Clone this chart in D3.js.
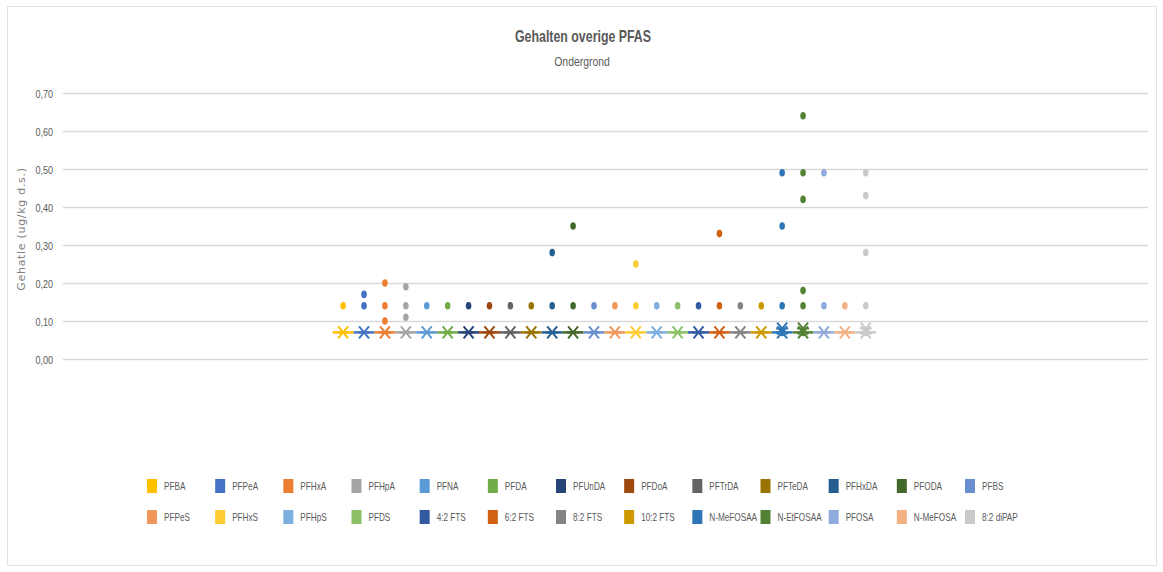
<!DOCTYPE html>
<html>
<head>
<meta charset="utf-8">
<script src="https://cdn.jsdelivr.net/npm/d3@7"></script>
<style>
  html, body { margin: 0; padding: 0; background: #ffffff; }
  svg { display: block; }
  text { font-family: "Liberation Sans", Arial, sans-serif; fill: #595959; }
</style>
</head>
<body>
<svg id="chart" width="1163" height="572"></svg>
<script>
// Stoffen in volgorde van de x-positie
const stoffen = [
  "PFBA", "PFPeA", "PFHxA", "PFHpA", "PFNA", "PFDA", "PFUnDA", "PFDoA", "PFTrDA",
  "PFTeDA", "PFHxDA", "PFODA", "PFBS", "PFPeS", "PFHxS", "PFHpS", "PFDS",
  "4:2 FTS", "6:2 FTS", "8:2 FTS", "10:2 FTS", "N-MeFOSAA", "N-EtFOSAA",
  "PFOSA", "N-MeFOSA", "8:2 diPAP"
];

const kleuren = [
  "#FFC000", "#4472C4", "#ED7D31", "#A5A5A5", "#5B9BD5", "#70AD47", "#264478", "#9E480E", "#636363",
  "#997300", "#255E91", "#43682B", "#698ED0", "#F1975A", "#FFCD33", "#7CAFDD", "#8CC168",
  "#335AA1", "#D26012", "#848484", "#CC9A00", "#2E75B6", "#548235",
  "#8FAADC", "#F4B183", "#C9C9C9"
];

// Gemeten gehalten (ug/kg d.s.) per stof
const gemeten = [
  [0.14], [0.14, 0.17], [0.10, 0.14, 0.20], [0.11, 0.14, 0.19], [0.14], [0.14], [0.14], [0.14], [0.14],
  [0.14], [0.14, 0.28], [0.14, 0.35], [0.14], [0.14], [0.14, 0.25], [0.14], [0.14],
  [0.14], [0.14, 0.33], [0.14], [0.14], [0.07, 0.14, 0.35, 0.49], [0.07, 0.14, 0.18, 0.42, 0.49, 0.64],
  [0.14, 0.49], [0.14], [0.07, 0.14, 0.28, 0.43, 0.49]
];

// Gehalten onder de rapportagegrens (ug/kg d.s.) per stof
const onderGrens = [
  [0.07], [0.07], [0.07], [0.07], [0.07], [0.07], [0.07], [0.07], [0.07],
  [0.07], [0.07], [0.07], [0.07], [0.07], [0.07], [0.07], [0.07],
  [0.07], [0.07], [0.07], [0.07], [0.07, 0.08], [0.07, 0.08],
  [0.07], [0.07], [0.07, 0.08]
];

const yTicks = [0, 0.1, 0.2, 0.3, 0.4, 0.5, 0.6, 0.7];

const svg = d3.select("#chart");
const plot = { left: 63, right: 1148, top: 93, bottom: 359 };

// place a text at (px, py) and squeeze it horizontally
function narrow(sel, px, py, sx) {
  sel.attr("x", 0).attr("y", 0)
     .attr("transform", `translate(${px},${py}) scale(${sx},1)`);
  return sel;
}

// chart frame
svg.append("rect")
  .attr("x", 7.5).attr("y", 6.5)
  .attr("width", 1149).attr("height", 559)
  .attr("fill", "#ffffff").attr("stroke", "#e3e3e3").attr("stroke-width", 1);

const x = d3.scaleLinear().domain([-12.4, 39.5]).range([plot.left, plot.right]);
const y = d3.scaleLinear().domain([0, 0.7]).range([plot.bottom, plot.top]);

// gridlines + y axis labels
const yAxis = d3.axisLeft(y)
  .tickValues(yTicks)
  .tickSize(-(plot.right - plot.left))
  .tickFormat(d => d3.format(".2f")(d).replace(".", ","));

const gY = svg.append("g")
  .attr("transform", `translate(${plot.left},0)`)
  .call(yAxis);
gY.select(".domain").remove();
gY.selectAll(".tick line").attr("stroke", "#d9d9d9").attr("stroke-width", 1.5);
gY.selectAll(".tick text")
  .attr("font-size", 11)
  .attr("dy", null)
  .attr("transform", "translate(-10,4) scale(0.82,1)")
  .attr("x", 0)
  .style("fill", "#595959");

// title
narrow(svg.append("text"), 583, 42, 0.75)
  .attr("text-anchor", "middle")
  .attr("font-size", 16.5).attr("font-weight", "bold")
  .text("Gehalten overige PFAS");
narrow(svg.append("text"), 582, 66, 0.8)
  .attr("text-anchor", "middle")
  .attr("font-size", 13)
  .text("Ondergrond");

// y axis title
svg.append("text")
  .attr("transform", `translate(25,229) rotate(-90)`)
  .attr("text-anchor", "middle")
  .attr("font-size", 11)
  .style("font-family", "'DejaVu Sans', sans-serif")
  .style("letter-spacing", "0.7px")
  .style("fill", "#7f7f7f")
  .text("Gehatle (ug/kg d.s.)");

// series
const series = stoffen.map((naam, i) => ({
  naam, kleur: kleuren[i], pos: i + 1, gemeten: gemeten[i], onderGrens: onderGrens[i]
}));

const gSeries = svg.append("g");

// line segments at the reporting limit
gSeries.selectAll("line.grens")
  .data(series)
  .join("line")
  .attr("class", "grens")
  .attr("x1", d => x(d.pos - 0.5))
  .attr("x2", d => x(d.pos + 0.5))
  .attr("y1", d => y(d.onderGrens[0]))
  .attr("y2", d => y(d.onderGrens[0]))
  .attr("stroke", d => d.kleur)
  .attr("stroke-width", 2.5);

// star markers (x shape with horizontal bar)
const starPts = series.flatMap(s => s.onderGrens.map(v => ({ s, v })));
const starG = gSeries.selectAll("g.ster")
  .data(starPts)
  .join("g")
  .attr("class", "ster")
  .attr("transform", d => `translate(${x(d.s.pos)},${y(d.v)})`);
starG.append("path")
  .attr("d", "M-5,-6L5,6M-5,6L5,-6M-6,0L6,0")
  .attr("stroke", d => d.s.kleur)
  .attr("stroke-width", 2)
  .attr("fill", "none");

// measured values as dots
const dotPts = series.flatMap(s => s.gemeten.map(v => ({ s, v })));
gSeries.selectAll("ellipse.meting")
  .data(dotPts)
  .join("ellipse")
  .attr("class", "meting")
  .attr("cx", d => x(d.s.pos))
  .attr("cy", d => y(d.v))
  .attr("rx", 2.8)
  .attr("ry", 3.8)
  .attr("fill", d => d.s.kleur);

// legend: two rows of 13
const legendX = d3.scalePoint().domain(d3.range(13)).range([147, 965]);
const legendRows = [486, 517];
const leg = svg.append("g").selectAll("g")
  .data(series)
  .join("g")
  .attr("transform", (d, i) => `translate(${legendX(i % 13)},${legendRows[Math.floor(i / 13)]})`);
leg.append("rect")
  .attr("x", 0).attr("y", -7)
  .attr("width", 10).attr("height", 14)
  .attr("fill", d => d.kleur);
leg.append("text")
  .attr("font-size", 10.5)
  .attr("transform", "translate(17,4) scale(0.78,1)")
  .text(d => d.naam);
</script>
</body>
</html>
